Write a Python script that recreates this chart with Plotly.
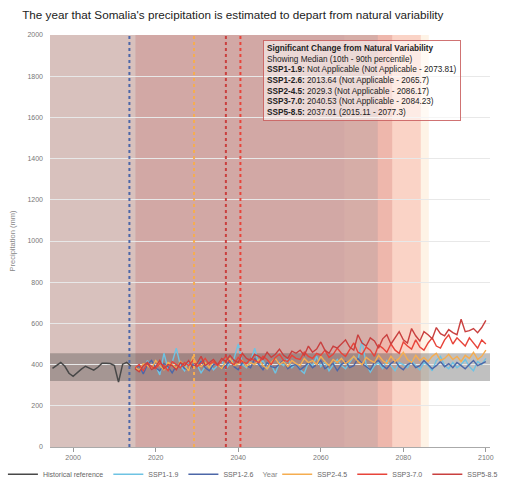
import plotly.graph_objects as go

# ---------------- data ----------------
hist_years = list(range(1995, 2015))
hist_vals = [382, 397, 410, 392, 358, 343, 363, 378, 392, 382,
             373, 387, 407, 407, 405, 395, 315, 402, 411, 392]

ssp_years = list(range(2015, 2101))
ssp119 = [385, 400, 360, 420, 375, 395, 350, 455, 380, 410,
          480, 395, 370, 420, 385, 400, 360, 390, 410, 375,
          395, 420, 380, 405, 430, 500, 400, 385, 415, 480,
          395, 420, 380, 400, 358, 410, 395, 430, 385, 405,
          375, 358, 410, 395, 440, 390, 415, 370, 400, 425,
          395, 380, 410, 440, 420, 518, 400, 364, 395, 410,
          380, 420, 395, 370, 410, 400, 385, 420, 395, 375,
          410, 397, 370, 420, 440, 395, 380, 410, 385, 400,
          425, 390, 370, 415, 400, 430]
ssp126 = [380, 395, 355, 400, 420, 385, 370, 405, 390, 360,
          395, 410, 380, 375, 400, 390, 415, 385, 370, 400,
          405, 380, 395, 420, 390, 375, 410, 395, 385, 430,
          400, 375, 410, 390, 385, 405, 420, 380, 395, 400,
          375, 390, 410, 385, 400, 420, 380, 395, 405, 370,
          400, 415, 385, 395, 430, 405, 390, 375, 410, 420,
          395, 380, 405, 420, 390, 375, 400, 410, 385, 395,
          420, 400, 380, 395, 415, 390, 405, 385, 410, 395,
          380, 400, 420, 395, 405, 415]
ssp245 = [390, 370, 405, 395, 380, 420, 395, 375, 410, 400,
          385, 415, 395, 370, 440, 400, 390, 410, 385, 420,
          400, 380, 415, 430, 395, 405, 420, 390, 410, 400,
          425, 395, 380, 410, 430, 400, 415, 390, 420, 405,
          395, 430, 410, 420, 400, 440, 415, 395, 425, 410,
          430, 405, 420, 440, 415, 400, 435, 420, 410, 445,
          420, 405, 440, 415, 430, 460, 425, 410, 445, 420,
          435, 415, 440, 455, 420, 430, 450, 425, 440, 415,
          445, 430, 460, 425, 440, 470]
ssp370 = [385, 400, 370, 410, 390, 380, 405, 395, 370, 415,
          400, 385, 410, 395, 420, 390, 405, 430, 400, 415,
          395, 420, 440, 410, 400, 435, 415, 405, 430, 420,
          410, 440, 425, 400, 435, 450, 420, 415, 445, 430,
          425, 460, 440, 430, 455, 445, 470, 435, 450, 480,
          455, 440, 470, 505, 460, 450, 485, 470, 440, 495,
          480, 460, 500, 470, 455, 510, 490, 475, 520, 485,
          470, 505, 530, 490, 480, 520, 545, 500, 530, 510,
          490, 530, 505, 480, 520, 500]
ssp585 = [380, 365, 395, 410, 375, 390, 420, 380, 400, 395,
          375, 410, 395, 420, 385, 405, 440, 395, 410, 425,
          400, 430, 415, 445, 420, 410, 455, 430, 420, 450,
          440, 425, 460, 435, 450, 475, 445, 430, 465, 455,
          470, 445, 490, 460, 475, 510, 470, 455, 490, 480,
          500, 520, 485, 470, 545, 505, 490, 530, 515, 480,
          525, 545, 500, 530, 560, 520, 505, 575, 540, 515,
          560, 545, 525, 580, 550, 540, 570, 555, 545, 620,
          560, 565, 575, 555, 580, 615]

scenarios = ["SSP1-1.9", "SSP1-2.6", "SSP2-4.5", "SSP3-7.0", "SSP5-8.5"]
scenario_values = [ssp119, ssp126, ssp245, ssp370, ssp585]
colors = ["#6ec3e3", "#4d67a8", "#f5ad50", "#e8443a", "#c9403f"]
shade_colors = ["#6ec3e3", "#4d67a8", "#f5ad50", "#e8443a", "#b83a3a"]
shade_opacity = [0.28, 0.05, 0.14, 0.18, 0.18]
median_year = [None, 2013.64, 2029.3, 2040.53, 2037.01]
p10_year = [None, None, None, None, 2015.11]
p90_year = [2073.81, 2065.7, 2086.17, 2084.23, 2077.3]
median_txt = ["Not Applicable", "2013.64", "2029.3", "2040.53", "2037.01"]
p10_txt = ["Not Applicable", "Not Applicable", "Not Applicable", "Not Applicable", "2015.11"]
p90_txt = ["2073.81", "2065.7", "2086.17", "2084.23", "2077.3"]

band_low, band_high = 320, 455
x_range = [1994.4, 2101]
y_ticks = list(range(0, 2001, 200))
x_ticks = list(range(2000, 2101, 20))

FONT = "Arial, Liberation Sans, sans-serif"

fig = go.Figure()

# percentile range shading per scenario
for c, op, lo, hi in zip(shade_colors, shade_opacity, p10_year, p90_year):
    fig.add_vrect(x0=lo if lo is not None else x_range[0], x1=hi,
                  fillcolor=c, opacity=op, layer="below", line_width=0)

# natural variability band
fig.add_hrect(y0=band_low, y1=band_high, fillcolor="rgb(60,60,60)",
              opacity=0.32, layer="below", line_width=0)

fig.add_trace(go.Scatter(x=hist_years, y=hist_vals, mode="lines",
                         line=dict(color="#484848", width=1.5),
                         name="Historical reference", legend="legend"))
for i, (name, vals, c) in enumerate(zip(scenarios, scenario_values, colors)):
    fig.add_trace(go.Scatter(x=ssp_years, y=vals, mode="lines",
                             line=dict(color=c, width=1.4), name=name,
                             legend="legend" if i < 2 else "legend2"))

# median departure lines
for c, m in zip(colors, median_year):
    if m is not None:
        fig.add_vline(x=m, line=dict(color=c, width=2, dash="dot"))

lines = ["<b>Significant Change from Natural Variability</b>",
         "Showing Median (10th - 90th percentile)"]
for s, m, lo, hi in zip(scenarios, median_txt, p10_txt, p90_txt):
    lines.append(f"<b>{s}:</b> {m} ({lo} - {hi})")
fig.add_annotation(xref="paper", yref="paper", x=0.484, y=0.988,
                   xanchor="left", yanchor="top", align="left",
                   text="<br>".join(lines), showarrow=False,
                   font=dict(family=FONT, size=8.2, color="#222"),
                   bgcolor="rgba(255,255,255,0.55)",
                   bordercolor="rgba(200,90,90,0.85)", borderwidth=1, borderpad=3)

fig.update_layout(
    width=505, height=486,
    margin=dict(l=50, r=15, t=35, b=39, autoexpand=False),
    paper_bgcolor="white", plot_bgcolor="white",
    font=dict(family=FONT, size=7, color="#777"),
    title=dict(text="The year that Somalia's precipitation is estimated to depart from natural variability",
               x=0.044, xref="container", xanchor="left",
               y=0.969, yref="container", yanchor="middle",
               font=dict(family=FONT, size=11.7, color="#222")),
    xaxis=dict(range=x_range, tickvals=x_ticks, showgrid=False,
               ticks="outside", ticklen=4, tickcolor="#999",
               showline=True, linecolor="#aaa", zeroline=False, automargin=False,
               title=dict(text="Year", standoff=11, font=dict(size=7.5, color="#888"))),
    yaxis=dict(range=[0, 2000], tickvals=y_ticks, showgrid=True, automargin=False,
               gridcolor="#e8e8e8", zeroline=False, ticklabelstandoff=6,
               title=dict(text="Precipitation (mm)", standoff=10, font=dict(size=7.5, color="#888"))),
    legend=dict(orientation="h", x=-0.107, xanchor="left", y=-0.066, yanchor="middle",
                font=dict(size=7, color="#666"), bgcolor="rgba(0,0,0,0)"),
    legend2=dict(orientation="h", x=1.03, xanchor="right", y=-0.066, yanchor="middle",
                 font=dict(size=7, color="#666"), bgcolor="rgba(0,0,0,0)"),
)

fig.write_html("out.html", config={"displayModeBar": False},
               post_script="document.body.style.margin='0';document.body.style.overflow='hidden';")
